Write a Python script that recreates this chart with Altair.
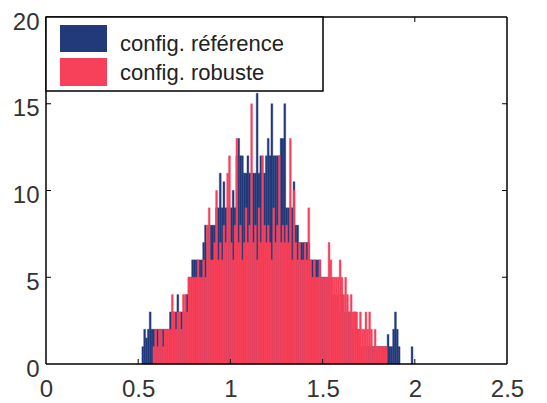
import altair as alt
import pandas as pd

# histogram bin grid (bin starts 0.52 ... 1.99, width 0.01)
bin_start = 0.52
bin_width = 0.01

blue_counts = [
    1, 2, 1.5, 2, 3, 2, 2, 2,                 # 0.52-0.59
    2, 2, 2, 2, 2, 2, 2, 3, 3, 3,             # 0.60-0.69
    3, 4, 3, 3, 3, 3, 4, 5, 5, 6,             # 0.70-0.79
    6, 6, 6, 6, 6, 7, 8, 7, 8, 8,             # 0.80-0.89
    8, 8, 9, 9, 11, 9, 10.5, 9, 9, 9,         # 0.90-0.99
    9, 10, 9, 12, 13, 12, 12, 11, 11, 12,     # 1.00-1.09
    11, 11, 11, 11, 15.6, 11, 12, 11, 11, 12, # 1.10-1.19
    13, 12, 15, 12, 12, 12, 12, 13, 13, 15,   # 1.20-1.29
    9, 9, 9, 9, 10.5, 8, 8, 7, 7, 7,          # 1.30-1.39
    7, 7, 7, 6, 6, 6, 6, 6, 6, 5,             # 1.40-1.49
    5, 5, 5, 5, 5, 4, 4, 4, 4, 3,             # 1.50-1.59
    4, 3, 3, 3, 3, 3, 2, 3, 2, 2,             # 1.60-1.69
    1, 1, 1, 1, 1, 1, 1, 1, 1, 1,             # 1.70-1.79
    1, 1, 1, 1, 1, 1.7, 1, 1, 2, 3,           # 1.80-1.89
    2, 1, 0, 0, 0, 0, 0, 0, 1, 0,             # 1.90-1.99
]

red_counts = [
    0, 0, 0, 0, 0, 0, 1, 2,                   # 0.52-0.59
    1, 2, 2, 1, 2, 2, 2, 2, 4, 3,             # 0.60-0.69
    2, 3, 3, 2, 4, 4, 3, 5, 5, 5,             # 0.70-0.79
    5, 5, 6, 5, 5, 6, 5, 8, 9, 6,             # 0.80-0.89
    6, 7, 10, 6, 7, 6, 8, 7, 11, 12,          # 0.90-0.99
    7, 6, 8, 13, 7, 8, 6, 7, 9, 7,            # 1.00-1.09
    8, 15, 7, 8, 6, 9, 7, 12, 8, 7,           # 1.10-1.19
    8, 7, 6, 9, 7, 8, 12, 7, 8, 7,            # 1.20-1.29
    8, 7, 13, 6, 10, 7, 6, 7, 6, 6,           # 1.30-1.39
    7, 6, 9, 6, 5, 6, 5, 5, 6, 5,             # 1.40-1.49
    5, 5, 5, 7, 6, 5, 5, 5, 5, 6,             # 1.50-1.59
    5, 4, 5, 4, 3, 4, 3, 3, 3, 2,             # 1.60-1.69
    3, 2, 2, 3, 2, 3, 2, 1, 2, 1,             # 1.70-1.79
    1, 1, 1, 1, 1, 0, 0, 0, 0, 0,             # 1.80-1.89
    0, 0, 0, 0, 0, 0, 0, 0, 0, 0,             # 1.90-1.99
]

x_ticks = [0, 0.5, 1, 1.5, 2, 2.5]
y_ticks = [0, 5, 10, 15, 20]
x_inner_ticks = [0.5, 1, 1.5, 2]
y_inner_ticks = [5, 10, 15]
legend_labels = ["config. référence", "config. robuste"]
BLUE = "#22397A"
RED = "#F7415A"

rows = []
for i, (b, r) in enumerate(zip(blue_counts, red_counts)):
    lo = round(bin_start + i * bin_width, 4)
    rows.append({"lo": lo, "hi": round(lo + bin_width, 4), "blue": b, "red": r})
df = pd.DataFrame(rows)

W, H = 461, 347
FONT = "Liberation Sans"
xs = alt.Scale(domain=[0, 2.5], nice=False, zero=False)
ys = alt.Scale(domain=[0, 20], nice=False)

xaxis = alt.Axis(values=x_ticks, labelFontSize=24, labelColor="#333333", labelFont=FONT,
                 tickSize=0, domain=False, grid=False, title=None, labelPadding=13,
                 labelFlush=False, labelExpr="format(datum.value, '~g')")
yaxis = alt.Axis(values=y_ticks, labelFontSize=24, labelColor="#333333", labelFont=FONT,
                 tickSize=0, domain=False, grid=False, title=None, labelPadding=7,
                 labelOffset=5, labelFlush=False)

base = alt.Chart(df)
blue_bars = base.transform_filter(alt.datum.blue > 0).mark_rect(
    color=BLUE, stroke=BLUE, strokeWidth=0.4).encode(
    x=alt.X("lo:Q", scale=xs, axis=xaxis),
    x2="hi:Q",
    y=alt.Y("blue:Q", scale=ys, axis=yaxis),
    y2=alt.datum(0),
)
red_bars = base.transform_filter(alt.datum.red > 0).mark_rect(
    color=RED, stroke=RED, strokeWidth=0.4).encode(
    x=alt.X("lo:Q", scale=xs),
    x2="hi:Q",
    y=alt.Y("red:Q", scale=ys),
    y2=alt.datum(0),
)

one = pd.DataFrame({"k": [0]})
frame = [
    alt.Chart(one).mark_rule(color="black", strokeWidth=1.5).encode(
        x=alt.value(0), x2=alt.value(W), y=alt.value(0)),
    alt.Chart(one).mark_rule(color="black", strokeWidth=1.5).encode(
        x=alt.value(0), x2=alt.value(W), y=alt.value(H)),
    alt.Chart(one).mark_rule(color="black", strokeWidth=1.5).encode(
        x=alt.value(0), y=alt.value(0), y2=alt.value(H)),
    alt.Chart(one).mark_rule(color="black", strokeWidth=1.5).encode(
        x=alt.value(W), y=alt.value(0), y2=alt.value(H)),
]

xt = pd.DataFrame({"v": x_inner_ticks})
yt = pd.DataFrame({"v": y_inner_ticks})
ticks = [
    alt.Chart(xt).mark_rule(color="black", strokeWidth=1).encode(
        x=alt.X("v:Q", scale=xs), y=alt.value(H), y2=alt.value(H - 5)),
    alt.Chart(xt).mark_rule(color="black", strokeWidth=1).encode(
        x=alt.X("v:Q", scale=xs), y=alt.value(0), y2=alt.value(5)),
    alt.Chart(yt).mark_rule(color="black", strokeWidth=1).encode(
        y=alt.Y("v:Q", scale=ys), x=alt.value(0), x2=alt.value(5)),
    alt.Chart(yt).mark_rule(color="black", strokeWidth=1).encode(
        y=alt.Y("v:Q", scale=ys), x=alt.value(W), x2=alt.value(W - 5)),
]

legend = [
    alt.Chart(one).mark_rect(fill="white", stroke="black", strokeWidth=1.5).encode(
        x=alt.value(0), x2=alt.value(277), y=alt.value(0), y2=alt.value(74)),
    alt.Chart(one).mark_rect(fill=BLUE).encode(
        x=alt.value(14), x2=alt.value(61), y=alt.value(8), y2=alt.value(35)),
    alt.Chart(one).mark_rect(fill=RED).encode(
        x=alt.value(14), x2=alt.value(61), y=alt.value(41), y2=alt.value(69)),
    alt.Chart(one).mark_text(text=legend_labels[0], align="left", baseline="alphabetic",
                             font=FONT, fontSize=22, color="#222222").encode(
        x=alt.value(74), y=alt.value(34)),
    alt.Chart(one).mark_text(text=legend_labels[1], align="left", baseline="alphabetic",
                             font=FONT, fontSize=22, color="#222222").encode(
        x=alt.value(74), y=alt.value(63)),
]

chart = alt.layer(blue_bars, red_bars, *frame, *ticks, *legend).properties(
    width=W, height=H,
    autosize=alt.AutoSizeParams(type="none"),
    padding={"left": 38, "top": 9, "right": 32, "bottom": 36},
    background="white",
).configure_view(strokeWidth=0)

chart.save("out.html", embed_options={"renderer": "svg", "actions": False})
